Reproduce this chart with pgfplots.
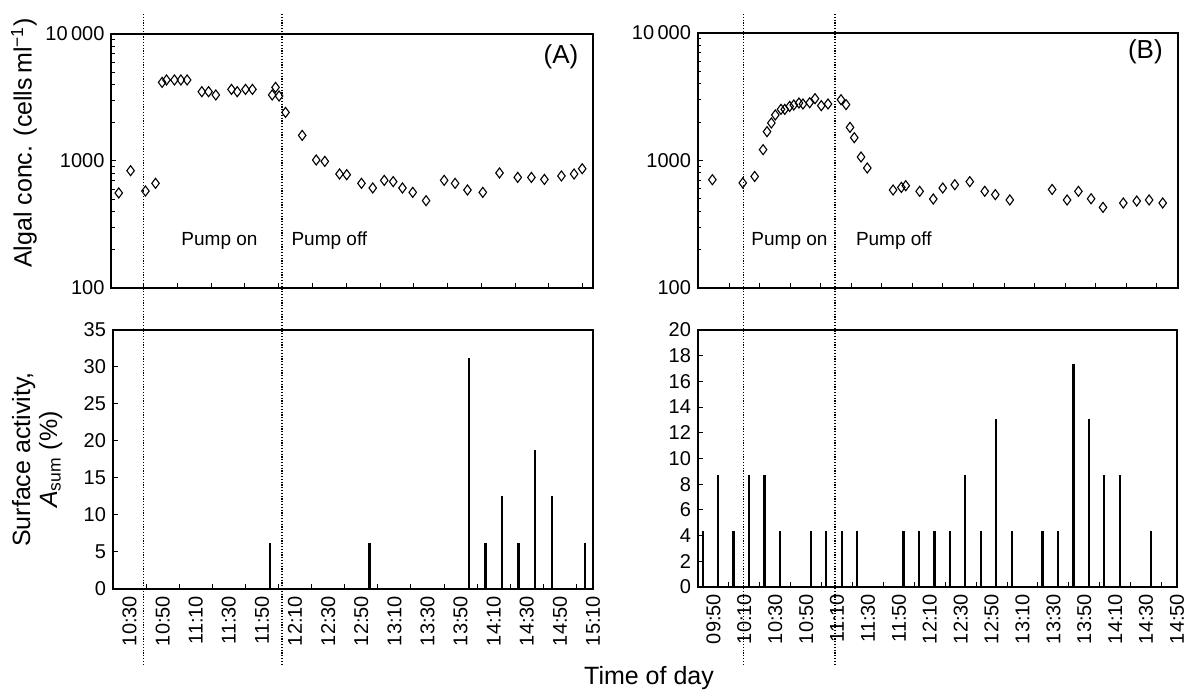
\documentclass[border=0pt]{standalone}
\usepackage{fontspec}
\setmainfont{Liberation Sans}
\usepackage{pgfplots}
\pgfplotsset{compat=1.18}
\pgfkeys{/pgf/number format/assume math mode=true}
\pgfplotsset{
  mybase/.style={
    scale only axis, tick align=inside, xtick pos=bottom, ytick pos=left,
    ticklabel style={font=\fontsize{10}{12}\selectfont},
    label style={font=\fontsize{12.5}{13.5}\selectfont},
    major tick length=2.5pt, minor tick length=1.6pt,
    tick style={black, line width=0.5pt},
  },
  mytop/.style={mybase,
    ytick={100,1000,10000}, yticklabels={100,1000,10\,000},
    minor ytick={200,300,400,500,600,700,800,900,2000,3000,4000,5000,6000,7000,8000,9000},
    axis line style={line width=1pt}, xticklabels={}},
  mybot/.style={mybase, ymin=0, axis line style={line width=0.6pt},
    xticklabels={},
    xticklabel style={rotate=90, anchor=east},
    extra x tick style={major tick length=0pt, tick style={draw=none}}},
  mypts/.style={only marks, mark=diamond, mark size=2.5pt, mark options={black, line width=0.55pt}},
  mybars/.style={ycomb, black, line width=1.1pt, no marks},
}
\begin{document}
\begin{tikzpicture}
\useasboundingbox (0pt,0pt) rectangle (592.5pt,345pt);

% ---------- (A) top ----------
\begin{axis}[ymode=log, ymin=100, ymax=10000, mytop, at={(55.75pt,201pt)}, anchor=south west, width=240.5pt, height=127pt,
  xmin=620.9, xmax=905.9, xtick={640,660,...,900},
  ylabel={Algal conc. (cells\,ml\textsuperscript{−1})},
  ylabel style={at={(rel axis cs:-0.182,0.571)}, anchor=center}]
\addplot[mypts] coordinates {
(625.2,560) (632.2,839) (641.0,580) (647.0,667) (650.9,4159) (653.5,4345)
(658.2,4345) (662.0,4345) (665.7,4345) (674.4,3513) (678.4,3513) (682.7,3311)
(692.0,3664) (695.4,3513) (700.3,3664) (704.4,3664) (716.1,3311) (718.1,3800)
(720.2,3251) (724.0,2414) (733.9,1591) (742.2,1018) (747.3,993) (756.0,790)
(760.3,780) (769.0,667) (775.7,613) (782.5,704) (787.8,688) (793.3,613)
(799.4,566) (807.3,487) (818.0,704) (824.5,667) (831.8,591) (840.9,566)
(850.8,805) (861.6,743) (869.7,743) (877.4,716) (887.5,762) (895.0,790) (899.8,869)};
\node[font=\fontsize{13}{15}\selectfont] at (rel axis cs:0.9345,0.909) {(A)};
\node[font=\fontsize{9.5}{11}\selectfont] at (rel axis cs:0.2245,0.185) {Pump on};
\node[font=\fontsize{9.5}{11}\selectfont] at (rel axis cs:0.453,0.185) {Pump off};
\coordinate (dA1) at (axis cs:640,100);
\coordinate (dA2) at (axis cs:722,100);
\end{axis}

% ---------- (A) bottom ----------
\begin{axis}[mybot, at={(56.5pt,50.5pt)}, anchor=south west, width=240pt, height=129.5pt,
  xmin=620, xmax=910, ymax=35, ytick={0,5,...,35},
  xtick={640,660,...,900},
  extra x ticks={630,650,...,910},
  extra x tick labels={10:30,10:50,11:10,11:30,11:50,12:10,12:30,12:50,13:10,13:30,13:50,14:10,14:30,14:50,15:10},
  ylabel={Surface activity,\\\textit{A}\textsubscript{sum} (\%)},
  ylabel style={at={(rel axis cs:-0.158,0.5)}, anchor=center, align=center}]
\addplot[mybars] coordinates {
(715,6.25) (775,6.25) (835,31.25) (845,6.25) (855,12.5) (865,6.25) (875,18.75) (885,12.5) (905,6.25)};
\end{axis}

% ---------- (B) top ----------
\begin{axis}[ymode=log, ymin=100, ymax=10000, mytop, at={(349pt,201pt)}, anchor=south west, width=240pt, height=127.5pt,
  xmin=579.7, xmax=893.9, xtick={600,620,...,880}]
\addplot[mypts] coordinates {
(589.1,707) (609.0,667) (616.8,750) (622.3,1216) (624.9,1683) (627.7,1968)
(630.3,2275) (634.0,2518) (636.5,2518) (639.7,2656) (642.4,2723) (645.8,2825)
(648.4,2773) (652.8,2838) (656.3,3053) (660.4,2692) (664.8,2773) (673.3,2999)
(676.6,2742) (679.2,1819) (682.0,1510) (686.4,1065) (690.5,873) (707.4,587)
(712.8,615) (715.7,634) (724.8,573) (733.7,499) (739.9,608) (747.8,646)
(757.6,682) (767.4,573) (774.3,540) (783.8,490) (811.5,593) (821.3,490)
(828.7,573) (837.0,501) (844.8,429) (858.1,464) (866.9,481) (875.0,490) (883.9,464)};
\node[font=\fontsize{13}{15}\selectfont] at (rel axis cs:0.932,0.925) {(B)};
\node[font=\fontsize{9.5}{11}\selectfont] at (rel axis cs:0.1906,0.184) {Pump on};
\node[font=\fontsize{9.5}{11}\selectfont] at (rel axis cs:0.408,0.184) {Pump off};
\coordinate (dB1) at (axis cs:609.5,100);
\coordinate (dB2) at (axis cs:669.5,100);
\end{axis}

% ---------- (B) bottom ----------
\begin{axis}[mybot, at={(349pt,51.5pt)}, anchor=south west, width=239.5pt, height=128.5pt,
  xmin=580, xmax=890, ymax=20, ytick={0,2,...,20},
  xtick={600,620,...,880},
  extra x ticks={590,610,...,890},
  extra x tick labels={09:50,10:10,10:30,10:50,11:10,11:30,11:50,12:10,12:30,12:50,13:10,13:30,13:50,14:10,14:30,14:50}]
\addplot[mybars] coordinates {
(583,4.35) (593,8.7) (603,4.35) (613,8.7) (623,8.7) (633,4.35) (653,4.35) (663,4.35)
(673,4.35) (683,4.35) (713,4.35) (723,4.35) (733,4.35) (743,4.35) (753,8.7) (763,4.35)
(773,13.04) (783,4.35) (803,4.35) (813,4.35) (823,17.39) (833,13.04) (843,8.7) (853,8.7) (873,4.35)};
\end{axis}

% dotted pump lines
\foreach \c in {dA1,dA2,dB1,dB2}{
  \draw[line width=0.75pt, dash pattern=on 0.6pt off 0.8pt] (\c |- 0pt,338pt) -- (\c |- 0pt,12.5pt);
}
\node[font=\fontsize{12.5}{15}\selectfont, anchor=base] at (324.5pt,2.5pt) {Time of day};
\end{tikzpicture}
\end{document}
